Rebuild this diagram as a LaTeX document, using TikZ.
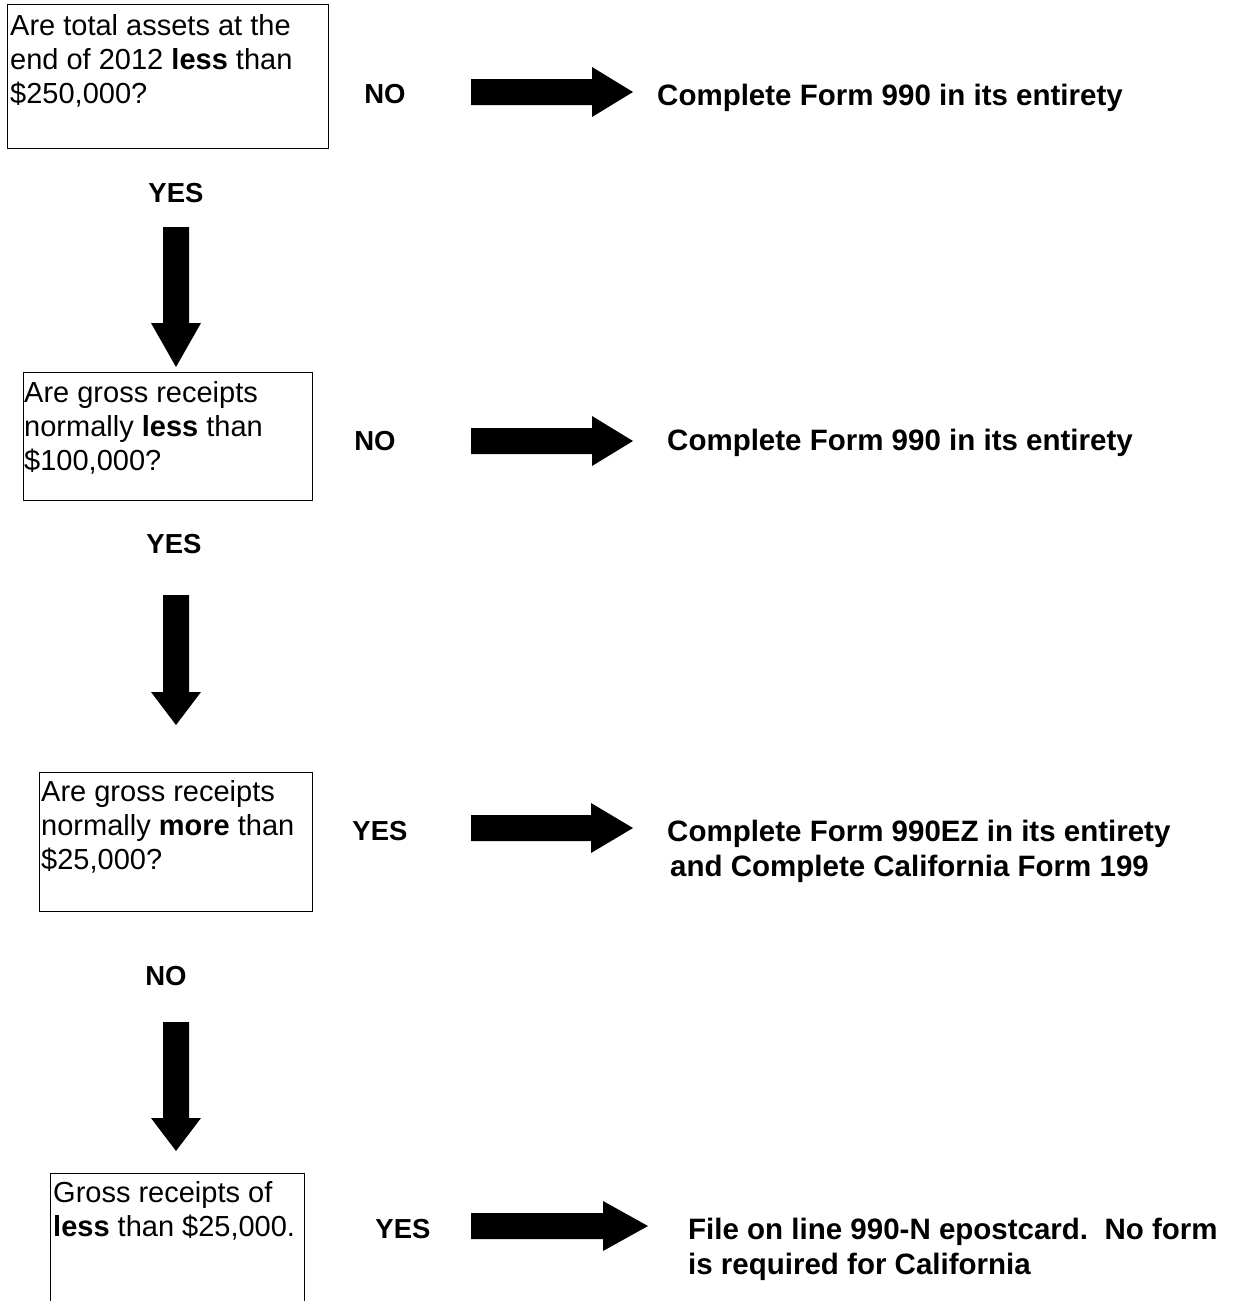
\documentclass[tikz,border=0pt]{standalone}
\usepackage{fontspec}
\setmainfont{Liberation Sans}
\begin{document}
\begin{tikzpicture}[x=1pt,y=-1pt,
  qbox/.style={draw=black, line width=1.3pt, anchor=north west, inner sep=0pt},
  qtext/.style={anchor=base west, align=left, inner sep=0pt, font=\fontsize{29}{34}\selectfont},
  lab/.style={anchor=base, inner sep=0pt, font=\fontsize{27.5}{32}\selectfont\bfseries},
  res/.style={anchor=base west, align=left, inner sep=0pt, font=\fontsize{29.5}{35}\selectfont\bfseries},
  pics/harr/.style n args={2}{code={\fill[black] (0,-13) -- (#1,-13) -- (#1,-25) -- (#2,0) -- (#1,25) -- (#1,13) -- (0,13) -- cycle;}},
  pics/varr/.style n args={2}{code={\fill[black] (-13,0) -- (-13,#1) -- (-25,#1) -- (0,#2) -- (25,#1) -- (13,#1) -- (13,0) -- cycle;}},
]
\useasboundingbox (0,0) rectangle (1237,1301);
\clip (0,0) rectangle (1237,1301);
\fill[white] (0,0) rectangle (1237,1301);

% question boxes
\node[qbox, minimum width=321pt, minimum height=144pt] (q1) at (7,4) {};
\node[qbox, minimum width=289pt, minimum height=128pt] (q2) at (23,372) {};
\node[qbox, minimum width=273pt, minimum height=139pt] (q3) at (39,772) {};
\node[qbox, minimum width=254pt, minimum height=160pt] (q4) at (50,1173) {};

% texts (anchor at the baseline of the last line)
\node[qtext] (q1t) at (10,103) {Are total assets at the\\end of 2012 \textbf{less} than\\\$250,000?};
\node[qtext] (q2t) at (24,470) {Are gross receipts\\normally \textbf{less} than\\\$100,000?};
\node[qtext] (q3t) at (41,869) {Are gross receipts\\normally \textbf{more} than\\\$25,000?};
\node[qtext] (q4t) at (53,1236) {Gross receipts of\\\textbf{less} than \$25,000.};

% horizontal labels
\node[lab] (n1) at (385,103) {NO};
\node[lab] (n2) at (375,450) {NO};
\node[lab] (y3) at (380,840) {YES};
\node[lab] (y4) at (403,1238) {YES};

% vertical labels
\node[lab] (y1) at (176,202) {YES};
\node[lab] (y2) at (174,553) {YES};
\node[lab] (n3) at (166,985) {NO};

% results
\node[res] (r1) at (657,105) {Complete Form 990 in its entirety};
\node[res] (r2) at (667,450) {Complete Form 990 in its entirety};
\node[res] (r3) at (667,876) {Complete Form 990EZ in its entirety\\\hspace*{3pt}and Complete California Form 199};
\node[res] (r4) at (688,1274) {File on line 990-N epostcard.\ \ No form\\is required for California};

% block arrows
\pic (ha1) at (471,92) {harr={121}{162}};
\pic (ha2) at (471,441) {harr={121}{162}};
\pic (ha3) at (471,828) {harr={120}{162}};
\pic (ha4) at (471,1226) {harr={132}{177}};

\pic (va1) at (176,227) {varr={96}{140}};
\pic (va2) at (176,595) {varr={97}{130}};
\pic (va3) at (176,1022) {varr={96}{129}};
\end{tikzpicture}
\end{document}
